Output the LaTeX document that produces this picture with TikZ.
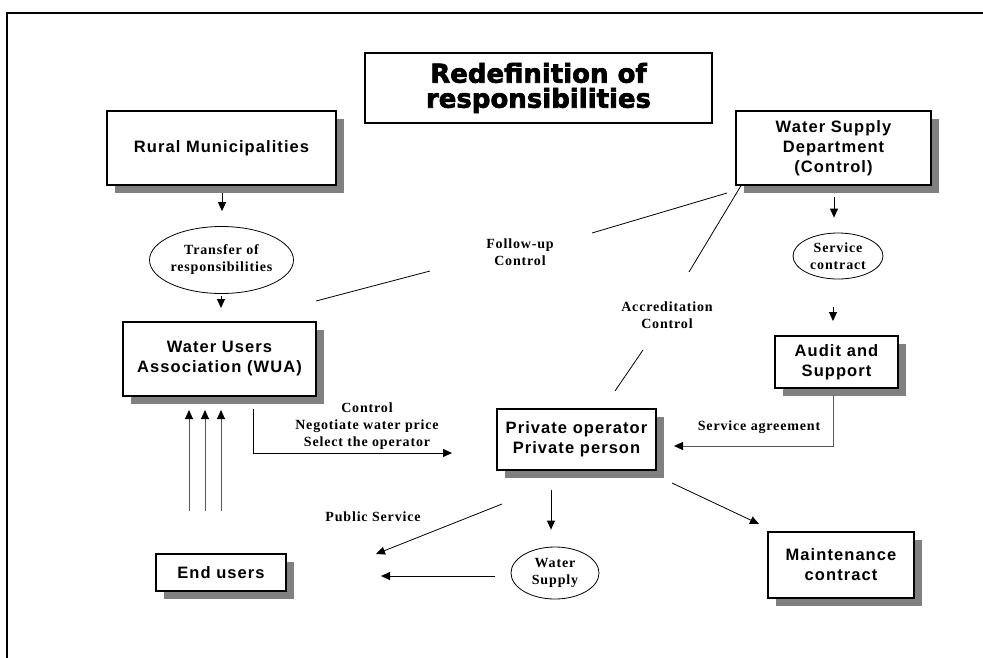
\documentclass[tikz,border=0pt]{standalone}
\usepackage{fontspec}
\setmainfont{Liberation Serif}
\newfontfamily\boxfont{Liberation Sans}[LetterSpace=6.5]
\newfontfamily\labfont{Liberation Serif}[LetterSpace=6]
\newfontfamily\titlefont{DejaVu Sans}[BoldFeatures={FakeBold=2.5}]
\usetikzlibrary{arrows.meta,shadows,calc,shapes.geometric}
\definecolor{shadowgray}{HTML}{808080}
\definecolor{linegray}{HTML}{5A5A5A}
\tikzset{
  box/.style={draw=black, line width=2pt, fill=white, inner sep=0pt, align=center,
    font=\boxfont\bfseries\fontsize{16.5}{20}\selectfont,
    drop shadow={shadow xshift=8pt, shadow yshift=-8pt, fill=shadowgray, draw=none, opacity=1}},
  titlebox/.style={draw=black, line width=2pt, fill=white, inner sep=0pt, align=center,
    font=\titlefont\bfseries\fontsize{26}{25}\selectfont},
  oval/.style={draw=black, line width=0.8pt, ellipse, inner sep=0pt, align=center,
    font=\labfont\bfseries\fontsize{14}{17}\selectfont},
  lab/.style={align=center, inner sep=0pt, font=\labfont\bfseries\fontsize{14}{17}\selectfont},
  arr/.style={line width=0.8pt, -{Triangle[length=9pt,width=8pt]}},
  grayarr/.style={line width=1pt, draw=linegray, -{Triangle[length=9pt,width=8pt,color=black,fill=black]}},
  plainline/.style={line width=0.8pt},
}
\begin{document}
\begin{tikzpicture}[x=1pt,y=-1pt]
\useasboundingbox (0,0) rectangle (983,657);
% outer frame
\draw[line width=2.2pt] (7,700) -- (7,13) -- (1000,13);

% boxes
\node[titlebox, minimum width=347pt, minimum height=70pt] (title) at (538.5,88) {Redefinition of\\responsibilities};
\node[box, minimum width=229pt, minimum height=74pt] (rural) at (221.5,148) {Rural Municipalities};
\node[box, minimum width=193pt, minimum height=74pt] (wua) at (219.5,359) {Water Users\\Association (WUA)};
\node[box, minimum width=130pt, minimum height=37pt] (end) at (221,572.5) {End users};
\node[box, minimum width=159pt, minimum height=61pt] (priv) at (576.5,439.5) {Private operator\\Private person};
\node[box, minimum width=195pt, minimum height=74pt] (wsd) at (833.5,148) {Water Supply\\Department\\(Control)};
\node[box, minimum width=123pt, minimum height=52pt] (audit) at (836.5,362) {Audit and\\Support};
\node[box, minimum width=146pt, minimum height=66pt] (maint) at (841,565) {Maintenance\\contract};

% ellipses
\node[oval, minimum width=115pt, minimum height=67pt] (transfer) at (221.5,260) {Transfer of\\responsibilities};
\node[oval, minimum width=90pt, minimum height=46pt] (service) at (838,256) {Service\\contract};
\node[oval, minimum width=88pt, minimum height=52pt] (water) at (555,573) {Water\\Supply};

% labels
\node[lab] (ctrllab) at (367,426) {Control\\Negotiate water price\\Select the operator};
\node[lab] (publab) at (373,517) {Public Service};
\node[lab] (salab) at (759,427) {Service agreement};
\node[lab] (fulab) at (520,252) {Follow-up\\Control};
\node[lab] (acclab) at (667,315) {Accreditation\\Control};

% coordinates for broken lines
\coordinate (fu1) at (592,233);
\coordinate (fu2) at (430,271);
\coordinate (ac1) at (689,272);
\coordinate (ac2) at (643,350);

% connectors
\draw[arr] ($(rural.south)+(0.5,7)$) -- ($(transfer.north)+(0.5,-15)$);
\draw[arr] ($(transfer.south)+(-0.5,2)$) -- ($(wua.north)+(1.5,-13)$);
\draw[grayarr] ($(end.north)+(-32,-42)$) -- ($(wua.south)+(-30.5,13)$);
\draw[grayarr] ($(end.north)+(-16,-42)$) -- ($(wua.south)+(-14.5,13)$);
\draw[grayarr] ($(end.north)+(0,-42)$) -- ($(wua.south)+(1.5,13)$);
\draw[arr] ($(wua.south)+(33.5,12)$) |- ($(priv.west)+(-44,13.5)$);
\draw[arr] ($(priv.south west)+(6,33)$) -- ($(end.east)+(89,-18.5)$);
\draw[arr] ($(water.west)+(-16,3)$) -- ($(end.east)+(94,3.5)$);
\draw[arr] ($(priv.south)+(-25.5,19)$) -- ($(water.north)+(-4,-17)$);
\draw[arr] ($(priv.south east)+(15,12)$) -- ($(maint.north west)+(-8,-7)$);
\draw[arr] ($(wsd.south)+(0.5,11)$) -- ($(service.north)+(-4,-15)$);
\draw[arr] ($(service.south)+(-5,28)$) -- ($(audit.north)+(-3.5,-14)$);
\draw[grayarr] ($(audit.south)+(-3.5,6)$) |- ($(priv.east)+(17,6.5)$);
\draw[plainline] ($(wsd.south west)+(-8,7)$) -- (fu1);
\draw[plainline] (fu2) -- ($(wua.north east)+(-1,-20)$);
\draw[plainline] ($(wsd.south west)+(7,-2)$) -- (ac1);
\draw[plainline] (ac2) -- ($(priv.north)+(38.5,-17)$);
\end{tikzpicture}
\end{document}
